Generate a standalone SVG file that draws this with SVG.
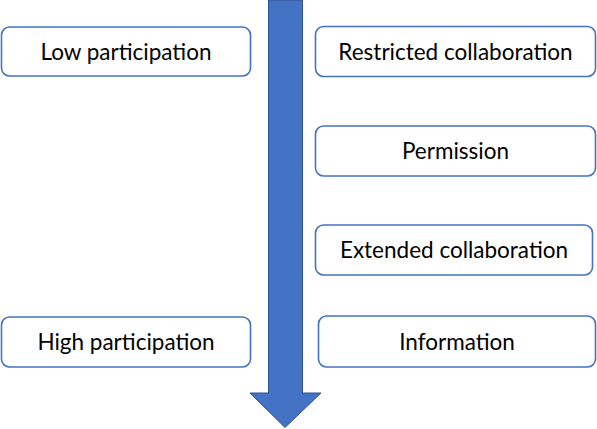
<svg xmlns="http://www.w3.org/2000/svg" width="597" height="429" viewBox="0 0 597 429">
<style>
.box{fill:#fff;stroke:#4472C4;stroke-width:1.6}
.lbl{font-family:Lato,"Open Sans",sans-serif;font-size:22.5px;fill:#000;text-anchor:middle}
</style>
<rect width="597" height="429" fill="#fff"/>
<g id="connectors">
<path d="M268.5,0 H302.5 V393 H321 L285,427.5 L250,393 H268.5 Z" fill="#4472C4" stroke="#2F528F" stroke-width="1"/>
</g>
<g id="low"><rect class="box" x="1.5" y="27" width="249" height="49" rx="8"/><text class="lbl" x="126" y="59.5">Low participation</text></g>
<g id="high"><rect class="box" x="1.5" y="317" width="249" height="50" rx="8"/><text class="lbl" x="126" y="350">High participation</text></g>
<g id="restricted"><rect class="box" x="315.5" y="26.5" width="280" height="50" rx="8"/><text class="lbl" x="455.5" y="59.5">Restricted collaboration</text></g>
<g id="permission"><rect class="box" x="315.5" y="126" width="280" height="50" rx="8"/><text class="lbl" x="455.5" y="159">Permission</text></g>
<g id="extended"><rect class="box" x="315.5" y="225" width="277" height="50" rx="8"/><text class="lbl" x="454" y="258">Extended collaboration</text></g>
<g id="information"><rect class="box" x="318.5" y="316" width="277" height="51" rx="8"/><text class="lbl" x="457" y="349.5">Information</text></g>
</svg>
